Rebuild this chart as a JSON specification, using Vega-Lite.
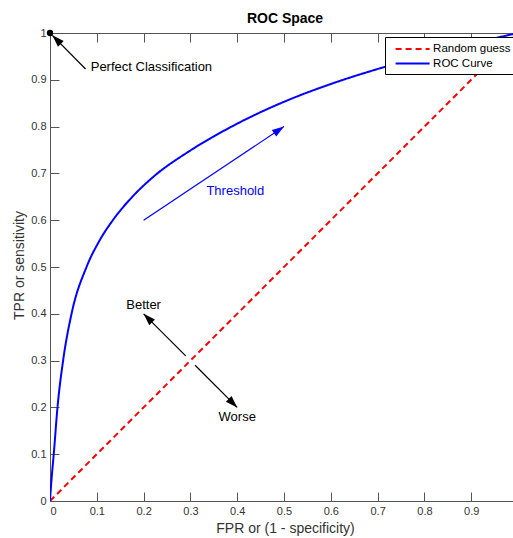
{
  "$schema": "https://vega.github.io/schema/vega-lite/v6.json",
  "width": 463,
  "height": 468,
  "autosize": {"type": "none"},
  "padding": {"left": 50, "top": 33, "right": 0, "bottom": 37},
  "background": "#ffffff",
  "title": {"text": "ROC Space", "fontSize": 14, "fontWeight": "bold", "font": "Liberation Sans", "color": "#000000", "anchor": "middle", "dx": 3.5, "dy": 21, "offset": 11, "baseline": "alphabetic"},
  "config": {
    "font": "Liberation Sans",
    "view": {"stroke": null},
    "axis": {"grid": false, "domainColor": "#555555", "tickColor": "#555555", "labelColor": "#333333", "titleColor": "#333333", "labelFont": "Liberation Sans", "titleFont": "Liberation Sans", "labelFontSize": 11, "titleFontSize": 14, "titleFontWeight": "normal", "domainWidth": 1, "tickWidth": 1}
  },
  "datasets": {
    "curves": [
      {"series": "Random guess", "fpr": 0, "tpr": 0},
      {"series": "Random guess", "fpr": 1, "tpr": 1},
      {"series": "ROC Curve", "fpr": 0, "tpr": 0},
      {"series": "ROC Curve", "fpr": 0.002, "tpr": 0.03},
      {"series": "ROC Curve", "fpr": 0.004, "tpr": 0.055},
      {"series": "ROC Curve", "fpr": 0.008, "tpr": 0.1},
      {"series": "ROC Curve", "fpr": 0.016, "tpr": 0.2},
      {"series": "ROC Curve", "fpr": 0.028, "tpr": 0.3},
      {"series": "ROC Curve", "fpr": 0.046, "tpr": 0.4},
      {"series": "ROC Curve", "fpr": 0.078, "tpr": 0.5},
      {"series": "ROC Curve", "fpr": 0.105, "tpr": 0.555},
      {"series": "ROC Curve", "fpr": 0.135, "tpr": 0.601},
      {"series": "ROC Curve", "fpr": 0.175, "tpr": 0.649},
      {"series": "ROC Curve", "fpr": 0.22, "tpr": 0.692},
      {"series": "ROC Curve", "fpr": 0.3, "tpr": 0.749},
      {"series": "ROC Curve", "fpr": 0.39, "tpr": 0.801},
      {"series": "ROC Curve", "fpr": 0.5, "tpr": 0.853},
      {"series": "ROC Curve", "fpr": 0.6, "tpr": 0.891},
      {"series": "ROC Curve", "fpr": 0.71, "tpr": 0.926},
      {"series": "ROC Curve", "fpr": 0.8, "tpr": 0.951},
      {"series": "ROC Curve", "fpr": 0.88, "tpr": 0.971},
      {"series": "ROC Curve", "fpr": 0.947, "tpr": 0.988},
      {"series": "ROC Curve", "fpr": 1, "tpr": 1}
    ],
    "points": [
      {"name": "Perfect Classification", "fpr": 0, "tpr": 1}
    ],
    "arrows": [
      {"name": "Perfect Classification", "x0": 0.076, "y0": 0.923, "x1": 0.005, "y1": 0.995},
      {"name": "Better", "x0": 0.29, "y0": 0.31, "x1": 0.2, "y1": 0.4},
      {"name": "Worse", "x0": 0.31, "y0": 0.29, "x1": 0.4, "y1": 0.2},
      {"name": "Threshold", "x0": 0.2, "y0": 0.6, "x1": 0.5, "y1": 0.8}
    ],
    "labels": [
      {"text": "Perfect Classification", "fpr": 0.087, "tpr": 0.928},
      {"text": "Better", "fpr": 0.2, "tpr": 0.419},
      {"text": "Worse", "fpr": 0.4, "tpr": 0.179},
      {"text": "Threshold", "fpr": 0.396, "tpr": 0.662}
    ]
  },
  "resolve": {"scale": {"x": "shared", "y": "shared"}, "axis": {"x": "independent"}},
  "layer": [
    {
      "data": {"name": "curves"},
      "mark": {"type": "line", "clip": true, "strokeWidth": 2, "interpolate": "monotone"},
      "encoding": {
        "x": {"field": "fpr", "type": "quantitative", "scale": {"domain": [0, 0.9893], "nice": false, "zero": false},
          "axis": {"orient": "bottom", "values": [0, 0.1, 0.2, 0.3, 0.4, 0.5, 0.6, 0.7, 0.8, 0.9], "format": "~g", "tickSize": -9, "labelPadding": 13, "title": "FPR or (1 - specificity)", "titleX": 235, "titleY": 31, "titleBaseline": "alphabetic", "titleAlign": "center"}},
        "y": {"field": "tpr", "type": "quantitative", "scale": {"domain": [0, 1], "nice": false},
          "axis": {"orient": "left", "values": [0, 0.1, 0.2, 0.3, 0.4, 0.5, 0.6, 0.7, 0.8, 0.9, 1], "format": "~g", "tickSize": -9, "labelPadding": 13, "title": "TPR or sensitivity", "titleX": -27, "titleY": 232, "titleBaseline": "alphabetic", "titleAlign": "center"}},
        "color": {"field": "series", "type": "nominal", "scale": {"domain": ["Random guess", "ROC Curve"], "range": ["#ff0000", "#0000ff"]},
          "legend": {"title": null, "orient": "none", "legendX": 335, "legendY": 4, "fillColor": "#ffffff", "strokeColor": "#000000", "padding": 5, "symbolType": "M-3,0L3,0", "symbolSize": 128.4, "symbolStrokeWidth": 2, "symbolOffset": 15.6, "labelFontSize": 11.5, "labelColor": "#000000", "labelOffset": 13.5, "rowPadding": 1.5, "labelFont": "Liberation Sans"}},
        "strokeDash": {"field": "series", "type": "nominal", "scale": {"domain": ["Random guess", "ROC Curve"], "range": [[6, 4], [1, 0]]},
          "legend": {"title": null, "orient": "none", "legendX": 335, "legendY": 4, "fillColor": "#ffffff", "strokeColor": "#000000", "padding": 5, "symbolType": "M-3,0L3,0", "symbolSize": 128.4, "symbolStrokeWidth": 2, "symbolOffset": 15.6, "labelFontSize": 11.5, "labelColor": "#000000", "labelOffset": 13.5, "rowPadding": 1.5, "labelFont": "Liberation Sans"}}
      }
    },
    {
      "data": {"name": "points"},
      "mark": {"type": "point", "filled": true, "color": "#000000", "size": 40, "opacity": 1},
      "encoding": {
        "x": {"field": "fpr", "type": "quantitative", "axis": {"orient": "top", "values": [0, 0.1, 0.2, 0.3, 0.4, 0.5, 0.6, 0.7, 0.8, 0.9], "labels": false, "tickSize": -9, "title": null, "minExtent": 0, "maxExtent": 0}},
        "y": {"field": "tpr", "type": "quantitative"}
      }
    },
    {
      "data": {"name": "arrows"},
      "transform": [{"filter": "datum.name !== 'Threshold'"}],
      "mark": {"type": "rule", "color": "#000000", "strokeWidth": 1.2},
      "encoding": {
        "x": {"field": "x0", "type": "quantitative", "axis": null},
        "y": {"field": "y0", "type": "quantitative"},
        "x2": {"field": "x1"},
        "y2": {"field": "y1"}
      }
    },
    {
      "data": {"name": "arrows"},
      "transform": [{"filter": "datum.name === 'Threshold'"}],
      "mark": {"type": "rule", "color": "#0000ff", "strokeWidth": 1.2},
      "encoding": {
        "x": {"field": "x0", "type": "quantitative", "axis": null},
        "y": {"field": "y0", "type": "quantitative"},
        "x2": {"field": "x1"},
        "y2": {"field": "y1"}
      }
    },
    {
      "data": {"name": "arrows"},
      "transform": [{"filter": "datum.name === 'Perfect Classification' || datum.name === 'Better'"}],
      "mark": {"type": "point", "shape": "M0,0L-0.67,2L0.67,2Z", "filled": true, "color": "#000000", "size": 144, "opacity": 1, "angle": 315},
      "encoding": {
        "x": {"field": "x1", "type": "quantitative", "axis": null},
        "y": {"field": "y1", "type": "quantitative"}
      }
    },
    {
      "data": {"name": "arrows"},
      "transform": [{"filter": "datum.name === 'Worse'"}],
      "mark": {"type": "point", "shape": "M0,0L-0.67,2L0.67,2Z", "filled": true, "color": "#000000", "size": 144, "opacity": 1, "angle": 135},
      "encoding": {
        "x": {"field": "x1", "type": "quantitative", "axis": null},
        "y": {"field": "y1", "type": "quantitative"}
      }
    },
    {
      "data": {"name": "arrows"},
      "transform": [{"filter": "datum.name === 'Threshold'"}],
      "mark": {"type": "point", "shape": "M0,0L-0.67,2L0.67,2Z", "filled": true, "color": "#0000ff", "size": 144, "opacity": 1, "angle": 56.3},
      "encoding": {
        "x": {"field": "x1", "type": "quantitative", "axis": null},
        "y": {"field": "y1", "type": "quantitative"}
      }
    },
    {
      "data": {"name": "labels"},
      "transform": [{"filter": "datum.text === 'Perfect Classification'"}],
      "mark": {"type": "text", "align": "left", "baseline": "middle", "fontSize": 13, "color": "#000000", "font": "Liberation Sans"},
      "encoding": {
        "x": {"field": "fpr", "type": "quantitative", "axis": null},
        "y": {"field": "tpr", "type": "quantitative"},
        "text": {"field": "text"}
      }
    },
    {
      "data": {"name": "labels"},
      "transform": [{"filter": "datum.text === 'Better' || datum.text === 'Worse'"}],
      "mark": {"type": "text", "align": "center", "baseline": "middle", "fontSize": 13, "color": "#000000", "font": "Liberation Sans"},
      "encoding": {
        "x": {"field": "fpr", "type": "quantitative", "axis": null},
        "y": {"field": "tpr", "type": "quantitative"},
        "text": {"field": "text"}
      }
    },
    {
      "data": {"name": "labels"},
      "transform": [{"filter": "datum.text === 'Threshold'"}],
      "mark": {"type": "text", "align": "center", "baseline": "middle", "fontSize": 13, "color": "#0000ff", "font": "Liberation Sans"},
      "encoding": {
        "x": {"field": "fpr", "type": "quantitative", "axis": null},
        "y": {"field": "tpr", "type": "quantitative"},
        "text": {"field": "text"}
      }
    }
  ]
}
